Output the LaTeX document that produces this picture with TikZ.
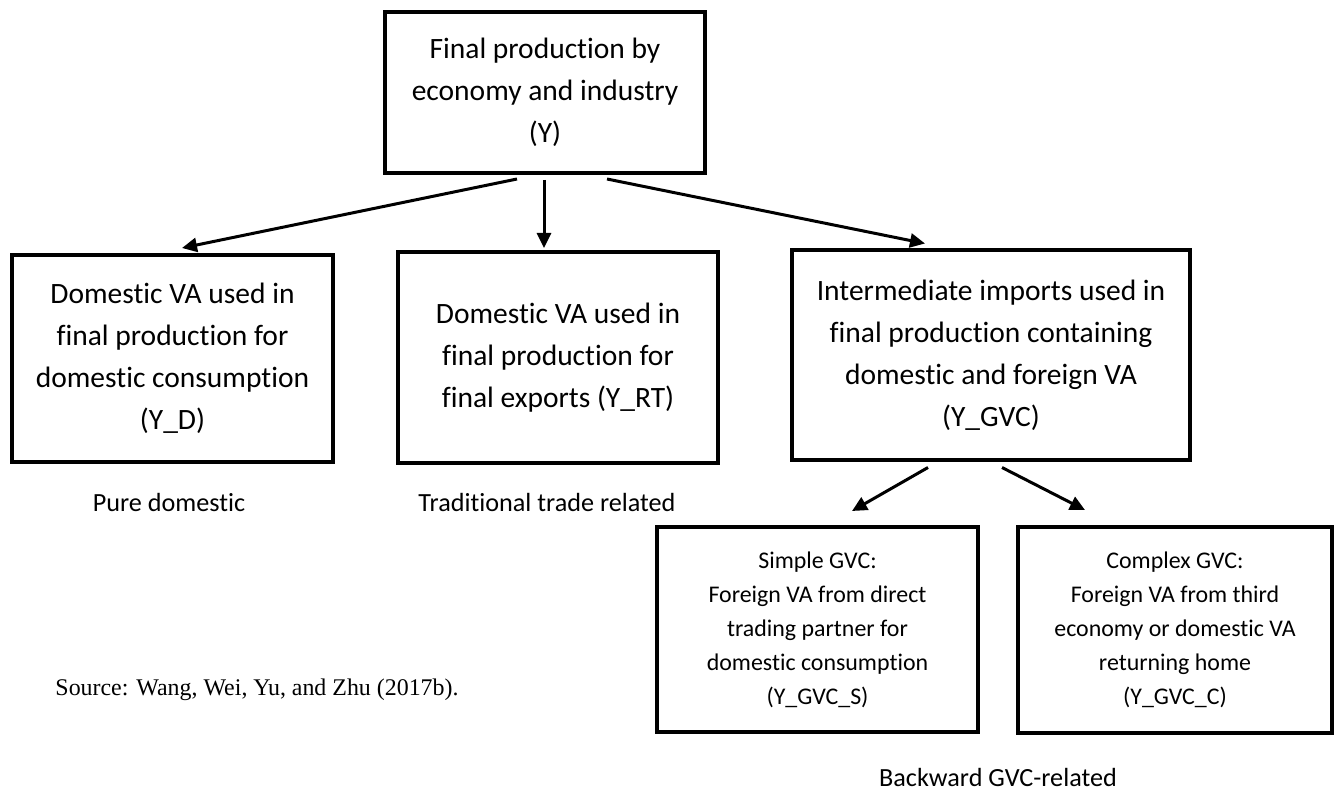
\documentclass[tikz,border=0pt]{standalone}
\usepackage{fontspec}
\setmainfont{Carlito}[Ligatures=NoCommon]
\newfontfamily\srcfont{Liberation Serif}
\usepackage{tikz}
\usetikzlibrary{positioning}
\usetikzlibrary{arrows.meta}

\begin{document}
\begin{tikzpicture}[x=0.5pt, y=-0.5pt]
% -------------------------------------------------
\tikzset{
  base/.style={draw, line width=2pt, rectangle, align=center, inner sep=0pt},
  proc/.style={base, font=\fontsize{14.75}{21}\selectfont},
  small/.style={base, font=\fontsize{11.95}{17}\selectfont},
  label/.style={align=center, inner sep=0pt, font=\fontsize{13.1}{16}\selectfont},
  line/.style={draw, line width=1.5pt, -{Triangle[length=7.5pt, width=7pt]}}
}
% -------------------------------------------------
\useasboundingbox (0,0) rectangle (1340,791);

% Placing the nodes
\node [proc, minimum width=160pt, minimum height=80.5pt] (p0) at (545,92.5)
  {Final production by\\economy and industry\\(Y)};

\node [proc, minimum width=160.5pt, minimum height=103.5pt] (p1) at (172.5,358.5)
  {Domestic VA used in\\final production for\\domestic consumption\\(Y\_D)};
\node [proc, minimum width=160pt, minimum height=105.5pt] (p2) at (558,357.5)
  {Domestic VA used in\\final production for\\final exports (Y\_RT)};
\node [proc, minimum width=199pt, minimum height=105pt] (p3) at (991,355.5)
  {Intermediate imports used in\\final production containing\\domestic and foreign VA\\(Y\_GVC)};

\node [small, minimum width=160.5pt, minimum height=102.5pt] (p4) at (817.5,629.5)
  {Simple GVC:\\Foreign VA from direct\\trading partner for\\domestic consumption\\(Y\_GVC\_S)};
\node [small, minimum width=157pt, minimum height=103pt] (p5) at (1175,630)
  {Complex GVC:\\Foreign VA from third\\economy or domestic VA\\returning home\\(Y\_GVC\_C)};

\node [label] (l1) at (169,502) {Pure domestic};
\node [label] (l2) at (547,502) {Traditional trade related};
\node [label] (l3) at (998,777) {Backward GVC-related};
\node [inner sep=0pt, font=\srcfont\fontsize{11.95}{14}\selectfont] (src) at (257,690)
  {Source: Wang, Wei, Yu, and Zhu (2017b).};

\path [line] ([xshift=-14pt,yshift=-2pt]p0.south) -- ([xshift=4.75pt,yshift=2.5pt]p1.north);
\path [line] ([xshift=-0.5pt,yshift=-2.5pt]p0.south) -- ([xshift=-7pt,yshift=1pt]p2.north);
\path [line] ([xshift=31pt,yshift=-2pt]p0.south) -- ([xshift=-33pt,yshift=2.5pt]p3.north);
\path [line] ([xshift=-31.5pt,yshift=-2.5pt]p3.south) -- ([xshift=17.25pt,yshift=7pt]p4.north);
\path [line] ([xshift=5.5pt,yshift=-2.5pt]p3.south) -- ([xshift=-45pt,yshift=7.5pt]p5.north);

\end{tikzpicture}
\end{document}
